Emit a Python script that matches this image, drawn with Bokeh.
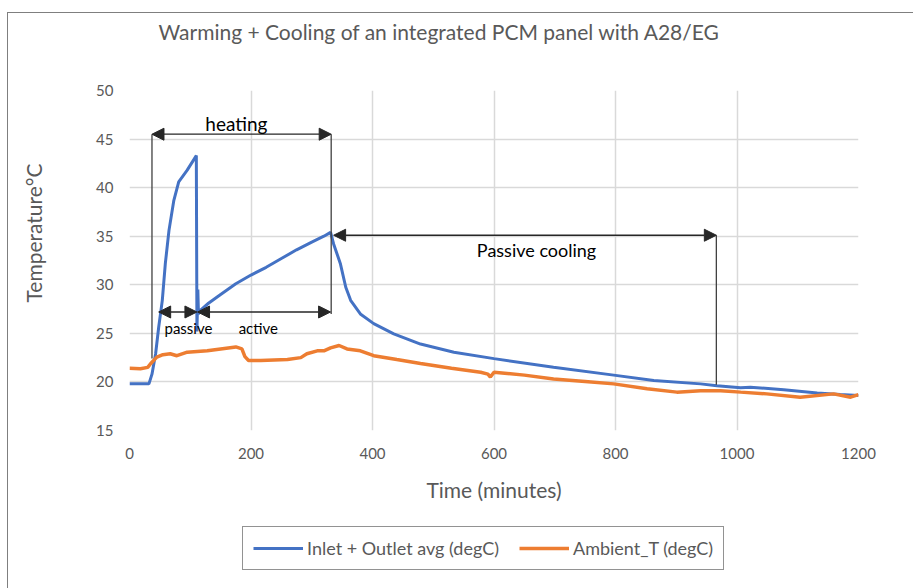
from bokeh.plotting import figure
from bokeh.layouts import column
from bokeh.models import Arrow, NormalHead, Label, Legend, LegendItem, FixedTicker, Title
from bokeh.embed import file_html
from bokeh.resources import INLINE

# ---------------- data ----------------
inlet_t = [0, 20, 32, 37, 43, 48, 54, 59, 65, 73, 81, 95, 110, 111, 112.5, 113.5, 117,
           130, 150, 175, 200, 225, 250, 275, 300, 320, 331, 336, 347, 356, 364, 380,
           402, 435, 479, 534, 600, 698, 797, 863, 940, 967, 1006, 1022, 1077, 1132,
           1170, 1200]
inlet_v = [19.8, 19.8, 19.8, 20.8, 22.9, 25.6, 28.4, 32.2, 35.6, 38.7, 40.6, 41.8, 43.3,
           25.2, 29.5, 27.0, 27.4, 28.1, 29.0, 30.1, 31.0, 31.8, 32.7, 33.6, 34.4, 35.0,
           35.4, 34.2, 32.2, 29.75, 28.4, 27.0, 26.0, 24.95, 23.9, 23.06, 22.4, 21.5,
           20.7, 20.15, 19.8, 19.6, 19.4, 19.46, 19.2, 18.85, 18.7, 18.6]

amb_t = [0, 18, 30, 35, 45, 55, 67, 78, 95, 128, 150, 175, 185, 190, 196, 216, 260,
         282, 292, 309, 320, 331, 345, 358, 380, 402, 440, 479, 530, 578, 590, 594,
         600, 650, 698, 750, 797, 852, 901, 940, 973, 1006, 1049, 1104, 1159, 1187, 1200]
amb_v = [21.4, 21.35, 21.5, 21.9, 22.55, 22.8, 22.9, 22.7, 23.06, 23.2, 23.4, 23.6,
         23.4, 22.6, 22.2, 22.2, 22.3, 22.5, 22.9, 23.2, 23.2, 23.5, 23.75, 23.4, 23.2,
         22.7, 22.3, 21.9, 21.4, 21.0, 20.8, 20.5, 21.0, 20.7, 20.3, 20.05, 19.8, 19.3,
         18.95, 19.1, 19.1, 18.95, 18.77, 18.43, 18.77, 18.43, 18.7]

series_names = ["Inlet + Outlet avg (degC)", "Ambient_T (degC)"]
x_ticks = [0, 200, 400, 600, 800, 1000, 1200]
y_ticks = [15, 20, 25, 30, 35, 40, 45, 50]

# phase arrows: (x_start, x_end, y)
phases = [(37, 332, 45.5),
          (48, 111, 27.2),
          (112, 331, 27.2),
          (336, 966, 35.1)]
# vertical marker lines: (x, y_top, y_bottom)
markers = [(37, 45.5, 22.4), (332, 45.5, 27.0), (966, 35.1, 19.7)]
# phase labels: (text, x, y, size)
phase_labels = [("heating", 176, 46.6, "19px"),
                ("passive", 97, 25.6, "15px"),
                ("active", 212, 25.6, "15px"),
                ("Passive cooling", 670, 33.6, "18px")]

FONT = "Lato"
TXT = "#595959"
BLUE = "#4472C4"
ORANGE = "#ED7D31"
GRID = "#D9D9D9"
INK = "#262626"

p = figure(frame_width=729, frame_height=340, output_backend="svg", toolbar_location=None,
           title=None, x_range=(0, 1200), y_range=(15, 50),
           min_border_left=129, min_border_right=55,
           min_border_top=90, min_border_bottom=75)
p.outline_line_color = None
p.background_fill_color = "white"
p.border_fill_color = None

# spacer (nearest the frame) then the real title above it
p.add_layout(Title(text=" ", text_font=FONT, text_font_size="37px", standoff=0), "above")
p.add_layout(Title(text="Warming + Cooling of an integrated PCM panel with A28/EG",
                   text_font=FONT, text_font_size="21px", text_font_style="normal",
                   text_color=TXT, align="left", offset=29, standoff=0), "above")

for ax, ticks in ((p.xaxis[0], x_ticks), (p.yaxis[0], y_ticks)):
    ax.ticker = FixedTicker(ticks=ticks)
    ax.axis_line_color = None
    ax.major_tick_line_color = None
    ax.minor_tick_line_color = None
    ax.major_tick_out = 0
    ax.minor_tick_out = 0
    ax.major_label_text_font = FONT
    ax.major_label_text_font_size = "15px"
    ax.major_label_text_color = TXT
    ax.axis_label_text_font = FONT
    ax.axis_label_text_font_size = "21px"
    ax.axis_label_text_font_style = "normal"
    ax.axis_label_text_color = TXT

p.xaxis.axis_label = "Time (minutes)"
p.xaxis.major_label_standoff = 17
p.xaxis.axis_label_standoff = 15
p.yaxis.major_label_standoff = 16

# y-axis title: placed in the left panel (spacer first, then the text)
p.add_layout(Title(text=" ", text_font=FONT, text_font_size="39px", standoff=0), "left")
p.add_layout(Title(text="Temperature°C", text_font=FONT, text_font_size="21px",
                   text_font_style="normal", text_color=TXT, align="left", offset=128,
                   standoff=0), "left")

p.xgrid.ticker = FixedTicker(ticks=x_ticks)
p.ygrid.ticker = FixedTicker(ticks=y_ticks)
for g in (p.xgrid[0], p.ygrid[0]):
    g.grid_line_color = GRID
    g.grid_line_width = 1.5

p.line(inlet_t, inlet_v, line_color=BLUE, line_width=3)
p.line(amb_t, amb_v, line_color=ORANGE, line_width=3.5)

# annotations
for (xs, xe, y) in phases:
    p.add_layout(Arrow(x_start=xs, y_start=y, x_end=xe, y_end=y,
                       line_color=INK, line_width=1.3,
                       start=NormalHead(size=12, fill_color=INK, line_color=INK, line_width=1),
                       end=NormalHead(size=12, fill_color=INK, line_color=INK, line_width=1)))
mx = [m[0] for m in markers]
p.segment(x0=mx, y0=[m[1] for m in markers], x1=mx, y1=[m[2] for m in markers],
          line_color="#404040", line_width=1.3)
for (t, x, y, s) in phase_labels:
    p.add_layout(Label(x=x, y=y, text=t, text_align="center", text_baseline="middle",
                       text_font=FONT, text_font_size=s, text_color="black"))

# legend strip below the chart (legend keys only, no visible data)
nan = float("nan")
pl = figure(width=913, height=83, output_backend="svg", toolbar_location=None,
            x_axis_type=None, y_axis_type=None, x_range=(0, 1), y_range=(0, 1),
            min_border=0)
pl.outline_line_color = None
pl.background_fill_color = None
pl.border_fill_color = None
k1 = pl.line([0, 1], [nan, nan], line_color=BLUE, line_width=3)
k2 = pl.line([0, 1], [nan, nan], line_color=ORANGE, line_width=3.5)
legend = Legend(items=[LegendItem(label=series_names[0], renderers=[k1]),
                       LegendItem(label=series_names[1], renderers=[k2])],
                orientation="horizontal", location=(113, 18),
                label_text_font=FONT, label_text_font_size="18px", label_text_color=TXT,
                glyph_width=50, glyph_height=20, label_standoff=4, spacing=20,
                padding=10, margin=0,
                border_line_color="#262626", border_line_width=1,
                background_fill_color="white", background_fill_alpha=1)
pl.add_layout(legend, "center")

layout = column(p, pl, spacing=0)
layout.styles = {
    "background-color": "white",
    "background-image": "linear-gradient(#7f7f7f,#7f7f7f), linear-gradient(#7f7f7f,#7f7f7f)",
    "background-position": "7px 12px, 7px 12px",
    "background-size": "1px 100%, 100% 1px",
    "background-repeat": "no-repeat, no-repeat",
}

open("out.html", "w").write(file_html(layout, INLINE))
